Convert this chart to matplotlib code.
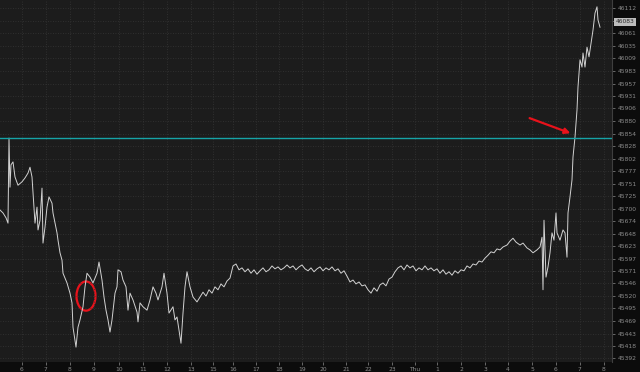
import matplotlib
matplotlib.use("Agg")
import matplotlib.pyplot as plt
from matplotlib.patches import Ellipse

# bar index along the intraday axis and price
bars = [0, 3, 6, 8, 9, 10, 11, 13, 15, 18, 22, 25, 28, 30, 32, 33, 35, 37, 38, 40,
        42, 43, 45, 47, 49, 52, 53, 55, 57, 58, 60, 62, 63, 67, 70, 72, 73, 76, 78, 80,
        83, 85, 87, 90, 93, 97, 99, 102, 104, 106, 108, 110, 112, 115, 117, 118, 121, 123, 126, 128,
        130, 133, 137, 138, 140, 143, 147, 150, 153, 156, 158, 162, 164, 167, 169, 173, 175, 177, 181, 183,
        185, 187, 190, 193, 197, 200, 203, 206, 209, 212, 215, 218, 221, 224, 227, 230, 233, 236, 239, 242,
        245, 248, 251, 254, 257, 260, 263, 266, 269, 272, 275, 278, 281, 284, 287, 290, 293, 296, 299, 302,
        305, 308, 311, 314, 317, 320, 323, 326, 329, 332, 335, 338, 341, 344, 347, 350, 353, 356, 359, 362,
        365, 368, 371, 374, 377, 380, 383, 386, 389, 392, 395, 398, 401, 404, 407, 410, 413, 416, 419, 422,
        425, 428, 431, 434, 437, 440, 443, 446, 449, 452, 455, 458, 461, 464, 467, 470, 473, 476, 479, 482,
        485, 488, 491, 494, 497, 500, 503, 507, 510, 513, 516, 520, 523, 527, 530, 533, 537, 540, 542, 543,
        544, 546, 548, 550, 552, 554, 556, 557, 560, 563, 565, 567, 568, 570, 572, 573, 575, 577, 578, 580,
        582, 583, 585, 587, 589, 592, 593, 595, 597, 598, 600]
prices = [45697, 45691, 45681, 45670, 45845, 45744, 45790, 45796, 45765, 45748, 45755, 45763, 45773, 45785, 45765, 45734, 45670, 45703, 45656, 45676,
          45742, 45629, 45662, 45703, 45724, 45711, 45691, 45670, 45650, 45635, 45609, 45594, 45567, 45547, 45526, 45506, 45456, 45415, 45456, 45471,
          45498, 45539, 45567, 45559, 45547, 45567, 45590, 45553, 45518, 45491, 45471, 45446, 45471, 45526, 45539, 45574, 45570, 45553, 45539, 45491,
          45526, 45512, 45487, 45467, 45506, 45498, 45491, 45512, 45539, 45526, 45512, 45539, 45567, 45526, 45485, 45498, 45471, 45477, 45423, 45485,
          45539, 45570, 45539, 45518, 45508, 45518, 45528, 45520, 45533, 45526, 45539, 45533, 45545, 45539, 45551, 45557, 45582, 45586, 45574, 45578,
          45570, 45576, 45567, 45574, 45565, 45572, 45578, 45570, 45574, 45582, 45576, 45580, 45574, 45578, 45584, 45578, 45582, 45574, 45580, 45584,
          45576, 45572, 45578, 45570, 45576, 45580, 45572, 45578, 45574, 45580, 45572, 45576, 45567, 45572, 45561, 45549, 45553, 45545, 45549, 45541,
          45543, 45533, 45526, 45537, 45530, 45543, 45547, 45541, 45555, 45559, 45570, 45578, 45582, 45574, 45584, 45578, 45582, 45572, 45578, 45574,
          45582, 45574, 45578, 45572, 45576, 45567, 45574, 45565, 45570, 45563, 45572, 45567, 45574, 45572, 45582, 45578, 45586, 45584, 45592, 45590,
          45598, 45604, 45611, 45609, 45617, 45615, 45621, 45625, 45633, 45639, 45631, 45625, 45629, 45619, 45615, 45609, 45615, 45621, 45641, 45533,
          45676, 45559, 45580, 45609, 45650, 45635, 45691, 45650, 45635, 45656, 45650, 45600, 45691, 45724, 45759, 45806, 45847, 45903, 45950, 46006,
          45991, 46020, 45991, 46032, 46012, 46053, 46067, 46102, 46115, 46088, 46073]

level = 45845
last_price = "46083"

x_labels = ["6", "7", "8", "9", "10", "11", "12", "13", "15", "16", "17", "18", "19",
            "20", "21", "22", "23", "Thu", "1", "2", "3", "4", "5", "6", "7", "8"]
x_label_bars = [22, 46, 70, 94, 119, 143, 167, 191, 213, 233, 256, 279, 302,
                323, 346, 368, 392, 415, 437, 461, 485, 508, 532, 556, 580, 604]
y_labels = ["46112", "46086", "46061", "46035", "46009", "45983", "45957", "45931", "45906", "45880",
            "45854", "45828", "45802", "45777", "45751", "45725", "45700", "45674", "45648", "45623",
            "45597", "45571", "45546", "45520", "45495", "45469", "45443", "45418", "45392"]

fig = plt.figure(figsize=(6.4, 3.72), dpi=100, facecolor="#0c0c0c")
ax = fig.add_axes([0, 10 / 372, 612 / 640, 362 / 372])
ax.set_facecolor("#1c1c1c")

ax.plot(bars, prices, color="#d2d2d2", lw=0.7)
ax.axhline(level, color="#16a3a6", lw=1)

# red marks
ax.add_patch(Ellipse((86, 45520), 19, 60, fill=False, edgecolor="#e8121b", lw=1.6))
ax.annotate("", xy=(573, 45853), xytext=(527, 45888),
            arrowprops=dict(arrowstyle="-|>", color="#e8121b", lw=1.6, mutation_scale=8))

ax.set_xlim(0, 612)
ax.set_ylim(45384.4, 46129)

ytick_vals = [float(v) for v in y_labels]
ax.set_yticks(ytick_vals)
ax.set_yticklabels(["" if v == "46086" else v for v in y_labels])
ax.set_xticks(x_label_bars)
ax.set_xticklabels(x_labels)
ax.yaxis.tick_right()
ax.tick_params(axis="both", colors="#8c8c8c", labelsize=4.3, length=2, width=0.5, pad=2)
ax.tick_params(axis="x", pad=1.5)

ax.grid(True, color="#363636", lw=0.6, linestyle=(0, (1, 2)))
for side in ["top", "left", "bottom"]:
    ax.spines[side].set_visible(False)
ax.spines["right"].set_color("#3e3e3e")
ax.spines["right"].set_linewidth(0.8)

# current price box
ax.text(1.006, 46084, last_price, transform=ax.get_yaxis_transform(), fontsize=4.3,
        color="#2a2a2a", va="center", ha="left",
        bbox=dict(boxstyle="square,pad=0.2", facecolor="#bdbdbd", edgecolor="none"))

fig.savefig("out.png", dpi=100, facecolor=fig.get_facecolor())
